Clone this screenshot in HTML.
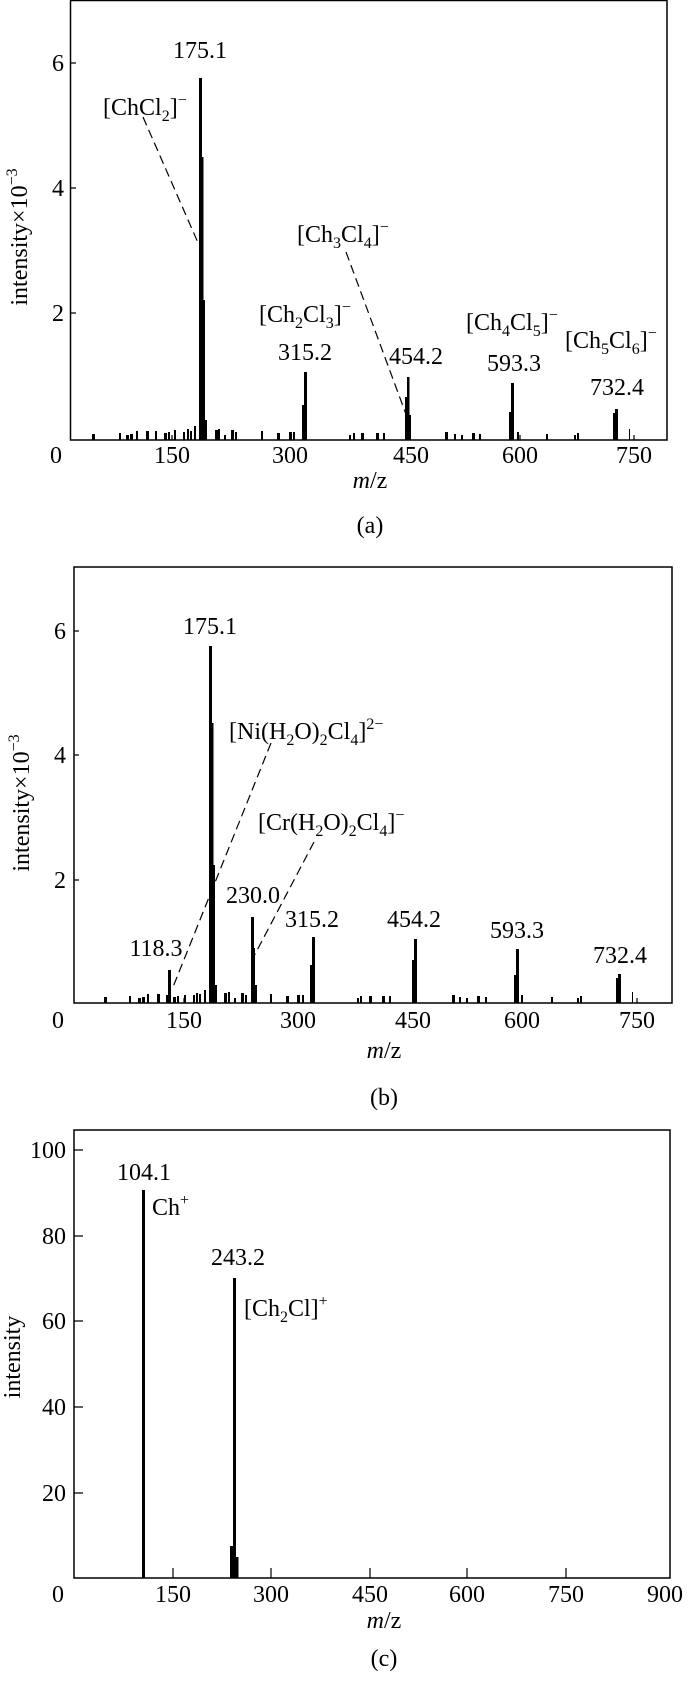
<!DOCTYPE html>
<html><head><meta charset="utf-8"><style>
html,body{margin:0;padding:0;background:#fff}
svg{display:block}
text{font-family:"Liberation Serif",serif;font-size:24px;fill:#000}
.t{text-anchor:middle}
.r{text-anchor:end}
</style></head><body>
<svg width="700" height="1681" viewBox="0 0 700 1681" xmlns="http://www.w3.org/2000/svg">
<g fill="none" stroke="#000" stroke-width="1.5">
<rect x="70.5" y="0.5" width="596.5" height="439.5"/>
<rect x="74" y="567" width="598" height="436"/>
<rect x="74" y="1130" width="596" height="448"/>
</g>
<!-- ticks -->
<g stroke="#000" stroke-width="1.2">
<path d="M71 63h5M71 188h5M71 313h5M172 440v-5M290 440v-5M409 440v-5M520 440v-5M634 440v-5"/>
<path d="M74 631h5M74 755h5M74 880h5M184 1003v-5M298 1003v-5M413 1003v-5M522 1003v-5M637 1003v-5"/>
<path d="M74 1150h9M74 1236h9M74 1321h9M74 1407h9M74 1493h9M173 1578v-10M271 1578v-10M370 1578v-10M467 1578v-10M566 1578v-10"/>
</g>
<!-- panel a bars -->
<g fill="#000">
<rect x="199" y="78" width="3" height="362"/>
<rect x="201" y="157" width="2.5" height="283"/>
<rect x="203" y="300" width="2" height="140"/>
<rect x="205" y="420" width="2" height="20"/>
<rect x="304" y="372" width="3" height="68"/>
<rect x="302" y="405" width="2" height="35"/>
<rect x="407" y="377" width="2.5" height="63"/>
<rect x="405" y="397" width="2" height="43"/>
<rect x="409" y="415" width="2" height="25"/>
<rect x="511" y="383" width="3" height="57"/>
<rect x="509" y="412" width="2" height="28"/>
<rect x="615" y="409" width="3" height="31"/>
<rect x="613" y="413" width="2" height="27"/>
<rect x="629" y="429" width="1" height="11"/>
</g>
<g fill="#000">
<rect x="92" y="434" width="3" height="6"/><rect x="119" y="433" width="2" height="7"/><rect x="126" y="435" width="3" height="5"/><rect x="130" y="434" width="3" height="6"/><rect x="136" y="431" width="2" height="9"/><rect x="146" y="431" width="3" height="9"/><rect x="155" y="431" width="2" height="9"/><rect x="164" y="433" width="3" height="7"/><rect x="168" y="432" width="2" height="8"/><rect x="174" y="430" width="2" height="10"/><rect x="183" y="432" width="2" height="8"/><rect x="187" y="429" width="2" height="11"/><rect x="190" y="431" width="2" height="9"/><rect x="194" y="426" width="2" height="14"/><rect x="205" y="427" width="2" height="13"/><rect x="215" y="430" width="3" height="10"/><rect x="218" y="429" width="2" height="11"/><rect x="224" y="435" width="2" height="5"/><rect x="231" y="430" width="3" height="10"/><rect x="235" y="432" width="2" height="8"/><rect x="261" y="431" width="2" height="9"/><rect x="277" y="433" width="3" height="7"/><rect x="289" y="432" width="3" height="8"/><rect x="293" y="432" width="2" height="8"/><rect x="349" y="435" width="2" height="5"/><rect x="353" y="433" width="2" height="7"/><rect x="361" y="433" width="3" height="7"/><rect x="376" y="433" width="3" height="7"/><rect x="383" y="433" width="2" height="7"/><rect x="445" y="432" width="3" height="8"/><rect x="454" y="434" width="2" height="6"/><rect x="461" y="435" width="2" height="5"/><rect x="472" y="433" width="3" height="7"/><rect x="479" y="434" width="2" height="6"/><rect x="517" y="432" width="2" height="8"/><rect x="546" y="434" width="2" height="6"/><rect x="574" y="435" width="2" height="5"/><rect x="577" y="433" width="2" height="7"/>
</g>
<g fill="none" stroke="#000" stroke-width="1.2" stroke-dasharray="9,5">
<path d="M143 117L199 245"/><path d="M346 252L407 417"/>
</g>
<text class="t" x="200" y="58">175.1</text>
<text x="103" y="115">[ChCl<tspan font-size="16" dy="6">2</tspan><tspan dy="-6">]</tspan><tspan font-size="16" dy="-10">−</tspan></text>
<text x="297" y="242">[Ch<tspan font-size="16" dy="6">3</tspan><tspan dy="-6">Cl</tspan><tspan font-size="16" dy="6">4</tspan><tspan dy="-6">]</tspan><tspan font-size="16" dy="-10">−</tspan></text>
<text x="259" y="322">[Ch<tspan font-size="16" dy="6">2</tspan><tspan dy="-6">Cl</tspan><tspan font-size="16" dy="6">3</tspan><tspan dy="-6">]</tspan><tspan font-size="16" dy="-10">−</tspan></text>
<text x="466" y="330">[Ch<tspan font-size="16" dy="6">4</tspan><tspan dy="-6">Cl</tspan><tspan font-size="16" dy="6">5</tspan><tspan dy="-6">]</tspan><tspan font-size="16" dy="-10">−</tspan></text>
<text x="565" y="348">[Ch<tspan font-size="16" dy="6">5</tspan><tspan dy="-6">Cl</tspan><tspan font-size="16" dy="6">6</tspan><tspan dy="-6">]</tspan><tspan font-size="16" dy="-10">−</tspan></text>
<text class="t" x="305" y="360">315.2</text>
<text class="t" x="416" y="364">454.2</text>
<text class="t" x="514" y="371">593.3</text>
<text class="t" x="617" y="395">732.4</text>
<text class="r" x="64" y="71">6</text><text class="r" x="64" y="196">4</text><text class="r" x="64" y="321">2</text>
<text class="t" x="56" y="463">0</text><text class="t" x="172" y="463">150</text><text class="t" x="290" y="463">300</text><text class="t" x="411" y="463">450</text><text class="t" x="520" y="463">600</text><text class="t" x="634" y="463">750</text>
<text class="t" x="370" y="488"><tspan font-style="italic">m</tspan>/z</text>
<text class="t" x="370" y="533">(a)</text>
<text class="t" transform="translate(27,237) rotate(-90)">intensity×10<tspan font-size="16" dy="-10">−3</tspan></text>

<!-- panel b -->
<g fill="#000">
<rect x="209" y="646" width="3" height="357"/>
<rect x="211" y="723" width="2.5" height="280"/>
<rect x="213" y="865" width="2" height="138"/>
<rect x="215" y="985" width="2" height="18"/>
<rect x="168" y="970" width="3" height="33"/>
<rect x="251" y="917" width="3" height="86"/>
<rect x="253" y="948" width="2" height="55"/>
<rect x="255" y="985" width="2" height="18"/>
<rect x="312" y="937" width="3" height="66"/>
<rect x="310" y="965" width="2" height="38"/>
<rect x="414" y="939" width="3" height="64"/>
<rect x="412" y="960" width="2" height="43"/>
<rect x="516" y="949" width="3" height="54"/>
<rect x="514" y="975" width="2" height="28"/>
<rect x="618" y="974" width="3" height="29"/>
<rect x="616" y="978" width="2" height="25"/>
<rect x="632" y="992" width="1" height="11"/>
<rect x="104" y="997" width="3" height="6"/><rect x="129" y="996" width="2" height="7"/><rect x="138" y="998" width="3" height="5"/><rect x="142" y="997" width="3" height="6"/><rect x="147" y="994" width="2" height="9"/><rect x="157" y="994" width="3" height="9"/><rect x="166" y="995" width="2" height="8"/><rect x="173" y="997" width="3" height="6"/><rect x="177" y="996" width="2" height="7"/><rect x="184" y="995" width="2" height="8"/><rect x="193" y="995" width="2" height="8"/><rect x="196" y="993" width="2" height="10"/><rect x="199" y="994" width="2" height="9"/><rect x="204" y="990" width="2" height="13"/><rect x="224" y="993" width="3" height="10"/><rect x="228" y="992" width="2" height="11"/><rect x="234" y="998" width="2" height="5"/><rect x="241" y="993" width="3" height="10"/><rect x="245" y="995" width="2" height="8"/><rect x="270" y="994" width="2" height="9"/><rect x="286" y="996" width="3" height="7"/><rect x="297" y="995" width="3" height="8"/><rect x="302" y="995" width="2" height="8"/><rect x="357" y="998" width="2" height="5"/><rect x="360" y="996" width="2" height="7"/><rect x="369" y="996" width="3" height="7"/><rect x="382" y="996" width="3" height="7"/><rect x="389" y="996" width="2" height="7"/><rect x="452" y="995" width="3" height="8"/><rect x="459" y="997" width="2" height="6"/><rect x="466" y="998" width="2" height="5"/><rect x="477" y="996" width="3" height="7"/><rect x="485" y="997" width="2" height="6"/><rect x="521" y="995" width="2" height="8"/><rect x="551" y="997" width="2" height="6"/><rect x="577" y="998" width="2" height="5"/><rect x="580" y="996" width="2" height="7"/>
</g>
<g fill="none" stroke="#000" stroke-width="1.2" stroke-dasharray="9,5">
<path d="M271 743L173 987"/><path d="M314 842L253 958"/>
</g>
<text class="t" x="210" y="634">175.1</text>
<text x="229" y="739">[Ni(H<tspan font-size="16" dy="6">2</tspan><tspan dy="-6">O)</tspan><tspan font-size="16" dy="6">2</tspan><tspan dy="-6">Cl</tspan><tspan font-size="16" dy="6">4</tspan><tspan dy="-6">]</tspan><tspan font-size="16" dy="-10">2−</tspan></text>
<text x="258" y="830">[Cr(H<tspan font-size="16" dy="6">2</tspan><tspan dy="-6">O)</tspan><tspan font-size="16" dy="6">2</tspan><tspan dy="-6">Cl</tspan><tspan font-size="16" dy="6">4</tspan><tspan dy="-6">]</tspan><tspan font-size="16" dy="-10">−</tspan></text>
<text class="t" x="253" y="903">230.0</text>
<text class="t" x="312" y="927">315.2</text>
<text class="t" x="414" y="927">454.2</text>
<text class="t" x="517" y="938">593.3</text>
<text class="t" x="620" y="963">732.4</text>
<text class="t" x="156" y="956">118.3</text>
<text class="r" x="66" y="639">6</text><text class="r" x="66" y="763">4</text><text class="r" x="66" y="888">2</text>
<text class="t" x="58" y="1028">0</text><text class="t" x="184" y="1028">150</text><text class="t" x="298" y="1028">300</text><text class="t" x="413" y="1028">450</text><text class="t" x="522" y="1028">600</text><text class="t" x="637" y="1028">750</text>
<text class="t" x="384" y="1058"><tspan font-style="italic">m</tspan>/z</text>
<text class="t" x="384" y="1105">(b)</text>
<text class="t" transform="translate(29,803) rotate(-90)">intensity×10<tspan font-size="16" dy="-10">−3</tspan></text>

<!-- panel c -->
<g fill="#000">
<rect x="142" y="1190" width="3" height="388"/>
<rect x="233" y="1278" width="3" height="300"/>
<rect x="230" y="1546" width="3" height="32"/>
<rect x="236" y="1557" width="2.5" height="21"/>
</g>
<text class="t" x="144" y="1180">104.1</text>
<text x="152" y="1215">Ch<tspan font-size="16" dy="-10">+</tspan></text>
<text class="t" x="238" y="1265">243.2</text>
<text x="244" y="1316">[Ch<tspan font-size="16" dy="6">2</tspan><tspan dy="-6">Cl]</tspan><tspan font-size="16" dy="-10">+</tspan></text>
<text class="r" x="66" y="1158">100</text><text class="r" x="66" y="1244">80</text><text class="r" x="66" y="1329">60</text><text class="r" x="66" y="1415">40</text><text class="r" x="66" y="1501">20</text>
<text class="t" x="58" y="1602">0</text><text class="t" x="173" y="1602">150</text><text class="t" x="271" y="1602">300</text><text class="t" x="370" y="1602">450</text><text class="t" x="467" y="1602">600</text><text class="t" x="566" y="1602">750</text><text class="t" x="665" y="1602">900</text>
<text class="t" x="384" y="1628"><tspan font-style="italic">m</tspan>/z</text>
<text class="t" x="384" y="1666">(c)</text>
<text class="t" transform="translate(20,1357) rotate(-90)">intensity</text>
</svg>
</body></html>
